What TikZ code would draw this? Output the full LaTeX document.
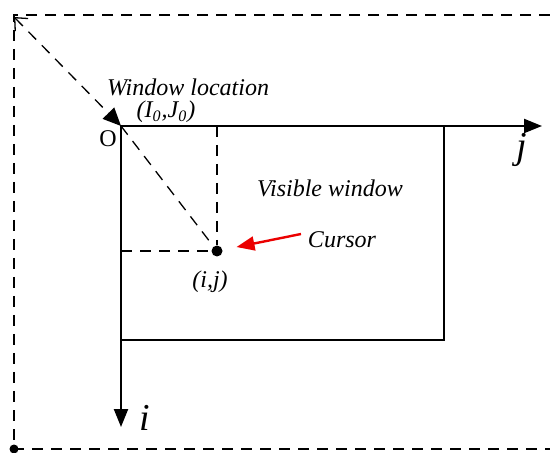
\documentclass[tikz,border=0pt]{standalone}
\usepackage{fontspec}
\setmainfont{Liberation Serif}
\usetikzlibrary{arrows.meta}
\definecolor{CursorRed}{RGB}{235,0,0}

\begin{document}
\begin{tikzpicture}[x=0.5pt,y=-0.5pt,
    dashline/.style={dash pattern=on 5.5pt off 4pt,line width=.65pt},
    axisline/.style={line width=1.1pt,-{Triangle[length=9pt,width=7pt]}},
    dotnode/.style={circle,fill=black,inner sep=0pt,minimum size=5.5pt},
    lbl/.style={font=\fontsize{12}{14}\selectfont\itshape,inner sep=1pt}]
  \useasboundingbox (0,0) rectangle (550,453);
  % outer frame (whole picture)
  \coordinate (corner) at (14,17);
  \draw[dashline] (550,15) -- (14,15) -- (14,449) -- (550,449);
  \node[dotnode,minimum size=4.5pt] (base) at (14,449) {};
  % window origin and axes
  \coordinate (org) at (121,126);
  \coordinate (jend) at (542,126);
  \coordinate (iend) at (121,427);
  \draw[axisline] (org) -- (jend);
  \draw[axisline] (org) -- (iend);
  \node[font=\fontsize{19}{20}\selectfont\itshape] (jlbl) at (522,150) {j};
  \node[font=\fontsize{19}{20}\selectfont\itshape] (ilbl) at (145,418) {i};
  \node[font=\fontsize{12}{14}\selectfont] (olbl) at (108,139) {O};
  % visible window
  \draw[line width=.95pt] (org) rectangle (444,340);
  \node[lbl] (vis) at (330,188) {Visible window};
  % window location
  \draw[dashline,{Straight Barb[length=5pt,width=9pt]}-{Triangle[length=9pt,width=8pt]}]
    (corner) -- (org);
  \node[lbl] (wloc) at (188,87) {Window location};
  \node[lbl] (i0j0) at (166,112) {(I\textsubscript{0},J\textsubscript{0})};
  % cursor
  \node[dotnode] (cur) at (217,251) {};
  \coordinate (jtop) at (217,126);
  \coordinate (ileft) at (121,251);
  \draw[dashline] (org) -- (cur);
  \draw[dashline] (jtop) -- (cur);
  \draw[dashline] (ileft) -- (cur);
  \node[lbl] (ijlbl) at (210,282) {(i,j)};
  \node[lbl] (curlbl) at (342,240) {Cursor};
  \coordinate (redtail) at (301,234);
  \draw[CursorRed,line width=1.2pt,-{Triangle[length=9pt,width=7pt]},
    shorten >=7pt] (redtail) -- (cur);
\end{tikzpicture}
\end{document}
